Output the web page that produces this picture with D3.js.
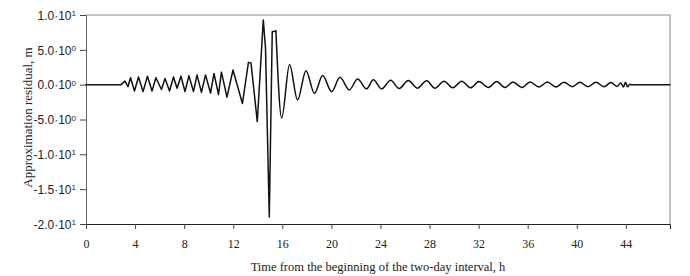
<!DOCTYPE html>
<html><head><meta charset="utf-8">
<script src="https://cdn.jsdelivr.net/npm/d3@7"></script>
<style>body{margin:0;background:#fff}svg{display:block}</style>
</head><body>
<script>
const times = [0, 2.85, 3.18, 3.42, 3.63, 3.95, 4.28, 4.65, 5.01, 5.38, 5.70, 6.15, 6.44, 6.81, 7.13, 7.42, 7.74, 8.07, 8.39, 8.76, 9.05, 9.41, 9.74, 10.15, 10.43, 10.80, 11.04, 11.49, 11.98, 12.75, 13.24, 13.45, 13.96, 14.45, 14.63, 14.94, 15.18, 15.48, 15.95, 16.59, 17.24, 17.93, 18.62, 19.29, 20.02, 20.70, 21.46, 22.14, 22.86, 23.42, 24.10, 24.83, 25.53, 26.27, 27.00, 27.77, 28.44, 29.18, 29.89, 30.62, 31.35, 32.03, 32.79, 33.47, 34.15, 34.80, 35.53, 36.19, 36.92, 37.61, 38.30, 38.96, 39.65, 40.26, 40.91, 41.56, 42.22, 42.79, 43.28, 43.60, 43.81, 43.97, 44.13, 44.34, 44.50, 47.6];
const residual = [0, 0, 0.5, -0.3, 1.0, -0.9, 1.1, -1.0, 1.2, -0.9, 1.0, -0.7, 0.9, -0.9, 1.1, -0.5, 1.2, -1.0, 1.3, -1.0, 1.4, -1.1, 1.4, -1.2, 1.6, -1.4, 1.8, -1.8, 2.1, -2.7, 3.2, 3.1, -5.3, 9.3, 5.3, -19.0, 7.6, 7.7, -4.8, 2.9, -2.2, 2.0, -1.25, 1.3, -1.0, 1.05, -0.75, 0.8, -0.6, 0.7, -0.6, 0.65, -0.55, 0.6, -0.5, 0.55, -0.5, 0.5, -0.45, 0.5, -0.45, 0.45, -0.4, 0.45, -0.4, 0.4, -0.4, 0.4, -0.35, 0.4, -0.35, 0.35, -0.3, 0.35, -0.3, 0.35, -0.3, 0.3, -0.25, 0.25, -0.35, 0.35, -0.3, 0.05, 0, 0];
const xTicks = [0, 4, 8, 12, 16, 20, 24, 28, 32, 36, 40, 44];
const yTicks = [10, 5, 0, -5, -10, -15, -20];
const xTitle = "Time from the beginning of the two-day interval, h";
const yTitle = "Approximation residual, m";

const W = 690, H = 276;
const m = {left: 86, right: 20, top: 15, bottom: 52};
const svg = d3.select("body").append("svg").attr("width", W).attr("height", H)
  .style("font-family", "'Liberation Serif', 'Times New Roman', serif");

const x = d3.scaleLinear().domain([0, 47.6]).range([m.left, W - m.right]);
const y = d3.scaleLinear().domain([-20, 10]).range([H - m.bottom, m.top]);

// frame (top & right)
svg.append("path")
  .attr("d", `M${x(0)},${y(10)}H${x(47.6)}V${y(-20)}`)
  .attr("fill", "none").attr("stroke", "#8a8a8a").attr("stroke-width", 1);

function sciParts(v) {
  if (v === 0) return ["0.0·10", "0"];
  const e = Math.floor(Math.log10(Math.abs(v)));
  const mant = v / Math.pow(10, e);
  return [mant.toFixed(1) + "·10", String(e)];
}

// y axis
const yAxis = svg.append("g").attr("transform", `translate(${m.left},0)`)
  .call(d3.axisLeft(y).tickValues(yTicks).tickSize(6).tickFormat(""));
yAxis.select(".domain").attr("stroke", "#666");
yAxis.selectAll(".tick line").attr("stroke", "#444");
yAxis.selectAll(".tick").each(function(d) {
  const p = sciParts(d);
  const t = d3.select(this).append("text")
    .attr("x", -10).attr("dy", "0.35em").attr("text-anchor", "end")
    .attr("fill", "#222").style("font-size", "12px");
  t.append("tspan").text(p[0]);
  t.append("tspan").attr("dy", "-0.45em").style("font-size", "8px").text(p[1]);
});

// x axis
const xAxis = svg.append("g").attr("transform", `translate(0,${y(-20)})`)
  .call(d3.axisBottom(x).tickValues(xTicks).tickSize(5).tickPadding(10).tickFormat(d3.format("d")));
xAxis.select(".domain").attr("stroke", "#222");
xAxis.selectAll(".tick line").attr("stroke", "#444");
xAxis.selectAll(".tick text").attr("fill", "#222").style("font-size", "12px").style("font-family", "'Liberation Serif', serif");

// line: jagged up to the main spike, smoother decaying wave afterwards
const pts = times.map((t, i) => [t, residual[i]]);
const split = 15.48;
const lineLin = d3.line().x(d => x(d[0])).y(d => y(d[1]));
const lineSmooth = d3.line().curve(d3.curveMonotoneX).x(d => x(d[0])).y(d => y(d[1]));
const g = svg.append("g").attr("fill", "none").attr("stroke", "#111")
  .attr("stroke-width", 1.5).attr("stroke-linejoin", "round").attr("stroke-linecap", "round");
g.append("path").attr("d", lineLin(pts.filter(d => d[0] <= split)));
g.append("path").attr("d", lineSmooth(pts.filter(d => d[0] >= split)));

// titles
svg.append("text").attr("x", (x(0) + x(47.6)) / 2).attr("y", 271)
  .attr("text-anchor", "middle").attr("fill", "#222").style("font-size", "12.5px").text(xTitle);
svg.append("text").attr("transform", `translate(32,${(y(10) + y(-20)) / 2 - 2}) rotate(-90)`)
  .attr("text-anchor", "middle").attr("fill", "#222").style("font-size", "13px").text(yTitle);
</script>
</body></html>
